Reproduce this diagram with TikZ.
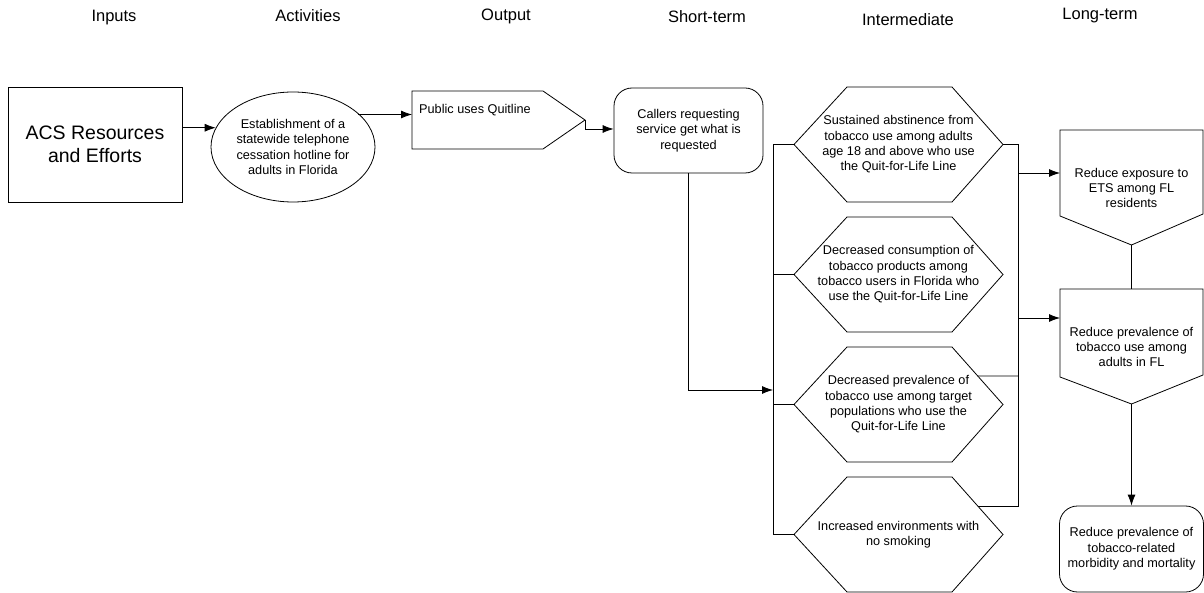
\documentclass[tikz,border=0pt]{standalone}
\usepackage{fontspec}
\setmainfont{Liberation Sans}
\usetikzlibrary{arrows.meta,shapes.geometric}
\newcommand{\myhex}[3]{%
  \node[txt] (#1) at (898.5,#2) {#3};
  \coordinate (#1-l) at (794,#2);
  \coordinate (#1-r) at (1003,#2);
  \coordinate (#1-ur) at (977.7,{#2-28.5});
  \draw[shp] (794,#2) -- ++(53,-57.5) -- ++(105,0) -- ++(51,57.5) -- ++(-51,57.5) -- ++(-105,0) -- cycle;
}
\begin{document}
\begin{tikzpicture}[x=1pt,y=-1pt,
  shp/.style={line width=0.8pt},
  txt/.style={font=\fontsize{12.7}{15.3}\selectfont, align=center, inner sep=0pt},
  hdr/.style={font=\fontsize{16.5}{19}\selectfont, inner sep=0pt},
  arr/.style={line width=0.8pt,-{Latex[length=11pt,width=8pt]}},
  con/.style={line width=0.8pt},
]
\useasboundingbox (0,0) rectangle (1204,593);

% headers
\node[hdr] (h-in) at (114,18) {Inputs};
\node[hdr] (h-act) at (308,16) {Activities};
\node[hdr] (h-out) at (506,16) {Output};
\node[hdr] (h-st) at (707,17) {Short-term};
\node[hdr] (h-int) at (908,20) {Intermediate};
\node[hdr] (h-lt) at (1100,16) {Long-term};

% inputs
\node[draw, shp, minimum width=174pt, minimum height=115pt, inner sep=0pt,
  font=\fontsize{19.5}{23}\selectfont, align=center] (acs) at (95,144.5) {ACS Resources\\and Efforts};

% activities
\node[draw, shp, ellipse, txt, minimum width=164pt, minimum height=110pt] (est) at (293,147)
  {Establishment of a\\statewide telephone\\cessation hotline for\\adults in Florida};

% output pentagon
\draw[shp] (412,91) -- (543,91) -- (585,120) -- (543,149) -- (412,149) -- cycle;
\coordinate (pin) at (412,114.5);
\coordinate (ptip) at (585,120);
\node[txt, anchor=west] (pub) at (419,110) {Public uses Quitline};

% short-term
\node[draw, shp, rounded corners=18pt, minimum width=149pt, minimum height=85pt, txt] (call) at (688.5,130.5)
  {Callers requesting\\service get what is\\requested};

% intermediate hexagons
\myhex{h1}{144.5}{Sustained abstinence from\\tobacco use among adults\\age 18 and above who use\\the Quit-for-Life Line}
\myhex{h2}{274.5}{Decreased consumption of\\tobacco products among\\tobacco users in Florida who\\use the Quit-for-Life Line}
\myhex{h3}{404.5}{Decreased prevalence of\\tobacco use among target\\populations who use the\\Quit-for-Life Line}
\myhex{h4}{534.5}{Increased environments with\\no smoking}

% long-term
\draw[shp] (1060,130) -- (1203,130) -- (1203,214) -- (1131.5,245) -- (1060,216) -- cycle;
\node[txt] (lt1) at (1131.5,188) {Reduce exposure to\\ETS among FL\\residents};
\draw[shp] (1060,289) -- (1203,289) -- (1203,375) -- (1131.5,404) -- (1060,377) -- cycle;
\node[txt] (lt2) at (1131.5,347) {Reduce prevalence of\\tobacco use among\\adults in FL};
\node[draw, shp, rounded corners=18pt, minimum width=144pt, minimum height=86pt, txt] (lt3) at (1131.5,549)
  {Reduce prevalence of\\tobacco-related\\morbidity and mortality};
\coordinate (lt1w) at (1060,173);
\coordinate (lt2w) at (1060,318);
\coordinate (lt1s) at (1131.5,245);
\coordinate (lt2n) at (1131.5,289);
\coordinate (lt2s) at (1131.5,404);

% brackets
\coordinate (lbin) at (773,390);
\draw[con] (h1-l) -- ++(-21,0) |- (h4-l);
\draw[con] (h2-l) -- ++(-21,0);
\draw[con] (h3-l) -- ++(-21,0);
\coordinate (rb1) at (1018,173);
\coordinate (rb2) at (1018,318);
\draw[con] (h1-r) -- ++(15,0) |- (h4-ur);
\draw[con] (h3-ur) -- (1018,375.999);

% connectors
\draw[arr] (acs.east |- est.166.9) -- (est.166.9);
\draw[arr] (est.27.8) |- (pin);
\draw[arr] (ptip) |- ([yshift=1.5pt]call.west);
\draw[arr] (call.south) |- (lbin);
\draw[arr] (rb1) -- (lt1w);
\draw[arr] (rb2) -- (lt2w);
\draw[con] (lt1s) -- (lt2n);
\draw[arr] (lt2s) -- (lt3.north);
\end{tikzpicture}
\end{document}
